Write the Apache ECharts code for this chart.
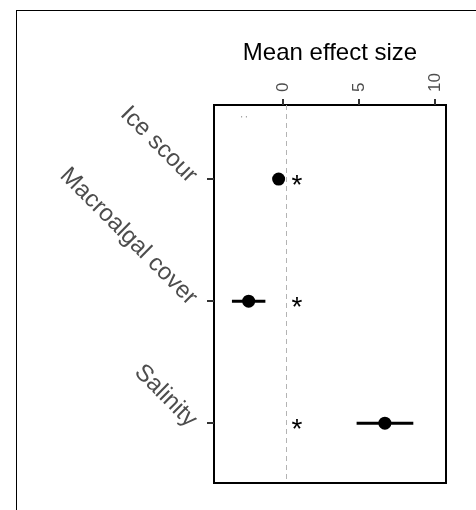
<!DOCTYPE html>
<html>
<head>
<meta charset="utf-8">
<script src="https://cdn.jsdelivr.net/npm/echarts@6/dist/echarts.min.js"></script>
<style>
  html, body { margin: 0; padding: 0; background: #fff; }
  #chart { width: 476px; height: 510px; }
</style>
</head>
<body>
<div id="chart"></div>
<script>
// data
var categories = ['Ice scour', 'Macroalgal cover', 'Salinity'];
var catPos = [1, 2, 3];
var meanEffect = [-0.29, -2.26, 6.7];
var ciLow = [-0.45, -3.36, 4.84];
var ciHigh = [-0.15, -1.16, 8.57];
var starX = [0.92, 0.92, 0.92];
var xTicks = [0, 5, 10];
var refLine = 0.2;
var noteMark = [[-2.6, 0.49]];

var chart = echarts.init(document.getElementById('chart'));

var font = '"Liberation Sans", Arial, Helvetica, sans-serif';

chart.setOption({
  animation: false,
  textStyle: { fontFamily: font },
  grid: {
    left: 214, right: 30, top: 105, bottom: 27,
    show: true, borderColor: '#000', borderWidth: 2, backgroundColor: 'transparent'
  },
  xAxis: {
    type: 'value',
    position: 'top',
    min: -4.54, max: 10.72,
    name: 'Mean effect size',
    nameLocation: 'middle',
    nameGap: 35,
    nameTextStyle: { fontSize: 24, color: '#000', fontFamily: font },
    axisLine: { show: false, onZero: false },
    splitLine: { show: false },
    axisTick: { show: true, customValues: xTicks, length: 6, lineStyle: { color: '#333', width: 2 } },
    axisLabel: { customValues: xTicks, rotate: -90, margin: 13, fontSize: 17, color: '#4d4d4d', fontFamily: font }
  },
  yAxis: {
    type: 'value',
    inverse: true,
    min: 0.393, max: 3.49,
    axisLine: { show: false, onZero: false },
    splitLine: { show: false },
    axisTick: { show: true, customValues: catPos, length: 7, lineStyle: { color: '#333', width: 2 } },
    axisLabel: {
      customValues: catPos,
      rotate: -45,
      margin: 21,
      padding: [24, 0, 0, 0],
      fontSize: 24,
      color: '#4d4d4d',
      fontFamily: font,
      formatter: function (v) { return categories[Math.round(v) - 1] || ''; }
    }
  },
  series: [
    {
      type: 'custom',
      renderItem: function (params, api) {
        var a = api.coord([api.value(0), api.value(2)]);
        var b = api.coord([api.value(1), api.value(2)]);
        return {
          type: 'line',
          shape: { x1: a[0], y1: a[1], x2: b[0], y2: b[1] },
          style: { stroke: '#000', lineWidth: 3 }
        };
      },
      encode: { x: [0, 1], y: 2 },
      data: catPos.map(function (p, i) { return [ciLow[i], ciHigh[i], p]; }),
      markLine: {
        silent: true,
        symbol: 'none',
        label: { show: false },
        lineStyle: { color: '#b3b3b3', type: [5, 4], width: 1 },
        data: [{ xAxis: refLine }]
      },
      z: 3
    },
    {
      type: 'scatter',
      symbol: 'circle',
      symbolSize: 13,
      itemStyle: { color: '#000', opacity: 1 },
      data: catPos.map(function (p, i) { return [meanEffect[i], p]; }),
      z: 4
    },
    {
      type: 'custom',
      renderItem: function (params, api) {
        var c = api.coord([api.value(0), api.value(1)]);
        return {
          type: 'text',
          x: c[0], y: c[1] + 7,
          style: {
            text: '*', fill: '#000', fontSize: 28, fontFamily: font,
            align: 'center', verticalAlign: 'middle'
          }
        };
      },
      data: catPos.map(function (p, i) { return [starX[i], p]; })
    },
    {
      type: 'custom',
      renderItem: function (params, api) {
        var c = api.coord([api.value(0), api.value(1)]);
        return {
          type: 'text',
          x: c[0], y: c[1], rotation: -Math.PI / 2,
          style: {
            text: ':', fill: '#555', fontSize: 10, fontFamily: font,
            align: 'center', verticalAlign: 'middle'
          }
        };
      },
      data: noteMark
    }
  ],
  graphic: [
    { type: 'line', shape: { x1: 16.5, y1: 10.5, x2: 16.5, y2: 510 }, style: { stroke: '#000', lineWidth: 1 } },
    { type: 'line', shape: { x1: 16, y1: 10.5, x2: 476, y2: 10.5 }, style: { stroke: '#000', lineWidth: 1 } }
  ]
});
</script>
</body>
</html>
